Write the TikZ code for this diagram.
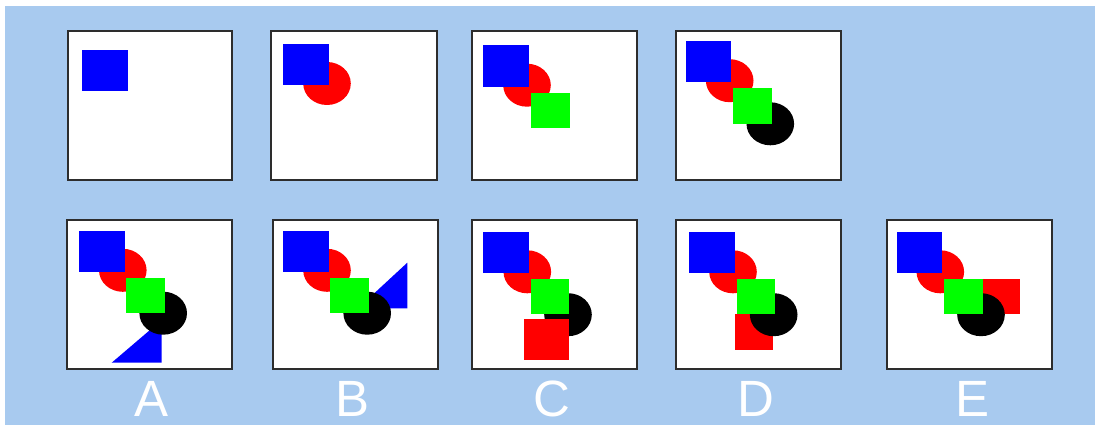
\documentclass[tikz,border=0pt]{standalone}
\usepackage{fontspec}
\setmainfont{Liberation Sans}
\usepackage{xcolor}
\usepackage{tikz}
\usetikzlibrary{positioning}

\definecolor{bgblue}{RGB}{168,202,239}
\definecolor{boxgray}{RGB}{45,45,45}
\definecolor{pureblue}{RGB}{0,0,255}
\definecolor{purered}{RGB}{255,0,0}
\definecolor{puregreen}{RGB}{0,255,0}

\begin{document}
\begin{tikzpicture}[
  x=1pt, y=-1pt,
  panel/.style={draw=boxgray, line width=2pt, fill=white},
  bsq/.style={fill=pureblue},
  rsq/.style={fill=purered},
  gsq/.style={fill=puregreen},
  rdisc/.style={fill=purered},
  kdisc/.style={fill=black},
  tri/.style={fill=pureblue},
  letter/.style={anchor=base, text=white, inner sep=0pt,
                 font=\fontsize{51}{60}\selectfont}
]
\useasboundingbox (0,0) rectangle (1095,425);
\fill[white] (0,0) rectangle (1095,425);
\fill[bgblue] (5,6) rectangle (1095,425);

% top row
\filldraw[panel] (68,31) rectangle (232,180);
\fill[bsq] (82.3,50) rectangle (128,91.3);

\filldraw[panel] (271,31) rectangle (437,180);
\fill[rdisc] (327,83.5) ellipse [x radius=23.8, y radius=21.5];
\fill[bsq] (283,44) rectangle (328.7,85.3);

\filldraw[panel] (472,31) rectangle (637,180);
\fill[rdisc] (527,85.2) ellipse [x radius=23.8, y radius=21.5];
\fill[bsq] (483.3,45.3) rectangle (529,87);
\fill[gsq] (530.7,93) rectangle (569.7,128.3);

\filldraw[panel] (676,31) rectangle (841,180);
\fill[rdisc] (729.7,80.7) ellipse [x radius=23.8, y radius=21.5];
\fill[bsq] (686,40.7) rectangle (731.3,82.3);
\fill[kdisc] (770.3,123.8) ellipse [x radius=23.8, y radius=21.5];
\fill[gsq] (733.3,88.3) rectangle (771.7,123.7);

% bottom row
\filldraw[panel] (67,220) rectangle (232,369);
\fill[rdisc] (122.8,270.3) ellipse [x radius=23.8, y radius=21.5];
\fill[bsq] (79,230.7) rectangle (124.7,272);
\fill[tri] (111.7,362.7) -- (161.7,362.7) -- (161.7,320) -- cycle;
\fill[kdisc] (163.2,313.2) ellipse [x radius=23.8, y radius=21.5];
\fill[gsq] (126.3,278) rectangle (165.3,313.3);

\filldraw[panel] (273,220) rectangle (438,369);
\fill[rdisc] (327,270.3) ellipse [x radius=23.8, y radius=21.5];
\fill[bsq] (283,230.7) rectangle (328.7,272);
\fill[tri] (358,308.3) -- (407.3,308.3) -- (407.3,262.7) -- cycle;
\fill[kdisc] (367.2,313.2) ellipse [x radius=23.8, y radius=21.5];
\fill[gsq] (330.3,278) rectangle (369.3,313.3);

\filldraw[panel] (472,220) rectangle (637,369);
\fill[rdisc] (527.3,271.8) ellipse [x radius=23.8, y radius=21.5];
\fill[bsq] (483.3,232.3) rectangle (529,273.3);
\fill[kdisc] (568,314.7) ellipse [x radius=23.8, y radius=21.5];
\fill[gsq] (531,279.3) rectangle (569.3,314.3);
\fill[rsq] (524,319) rectangle (569.3,360.3);

\filldraw[panel] (676,220) rectangle (841,369);
\fill[rdisc] (733,271.8) ellipse [x radius=23.8, y radius=21.5];
\fill[bsq] (689.3,232.3) rectangle (734.7,273.3);
\fill[rsq] (734.7,314.3) rectangle (773.3,349.7);
\fill[kdisc] (773.7,314.7) ellipse [x radius=23.8, y radius=21.5];
\fill[gsq] (736.7,279.3) rectangle (775.3,314.3);

\filldraw[panel] (887,220) rectangle (1052,369);
\fill[rdisc] (940.3,271.8) ellipse [x radius=23.8, y radius=21.5];
\fill[bsq] (896.7,232.3) rectangle (942.3,273.3);
\fill[rsq] (981,279.3) rectangle (1019.7,314.3);
\fill[kdisc] (981,314.7) ellipse [x radius=23.8, y radius=21.5];
\fill[gsq] (943.7,279.3) rectangle (982.7,314.3);

% answer letters
\node[letter] (labA) at (151.7,416.5) {A};
\node[letter] (labB) at (352.5,416.5) {B};
\node[letter] (labC) at (552,416.5) {C};
\node[letter] (labD) at (755.8,416.5) {D};
\node[letter] (labE) at (972,416.5) {E};
\end{tikzpicture}
\end{document}
